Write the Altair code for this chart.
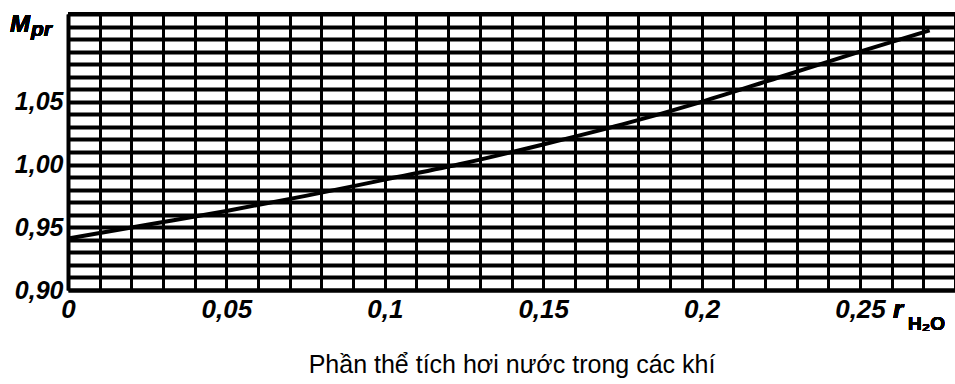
import altair as alt
import pandas as pd

# Curve
r_h2o = [0.0, 0.025, 0.05, 0.075, 0.10, 0.125, 0.15, 0.175, 0.20, 0.225, 0.25, 0.272]
m_pr = [0.941, 0.952, 0.963, 0.975, 0.988, 1.001, 1.016, 1.032, 1.050, 1.070, 1.090, 1.107]

# Grid / tick values
x_ticks = [0.0, 0.01, 0.02, 0.03, 0.04, 0.05, 0.06, 0.07, 0.08, 0.09, 0.10, 0.11, 0.12, 0.13,
           0.14, 0.15, 0.16, 0.17, 0.18, 0.19, 0.20, 0.21, 0.22, 0.23, 0.24, 0.25, 0.26, 0.27, 0.28]
y_ticks = [0.90, 0.91, 0.92, 0.93, 0.94, 0.95, 0.96, 0.97, 0.98, 0.99, 1.00, 1.01, 1.02,
           1.03, 1.04, 1.05, 1.06, 1.07, 1.08, 1.09, 1.10, 1.11, 1.12]
x_domain = [0.0, 0.28]
y_domain = [0.90, 1.12]

x_title = "Phần thể tích hơi nước trong các khí"

df = pd.DataFrame({"r": r_h2o, "m": m_pr})

LF = "Liberation Sans"

xscale = alt.Scale(domain=x_domain, nice=False, zero=False)
yscale = alt.Scale(domain=y_domain, nice=False, zero=False)

x_axis = alt.Axis(
    values=x_ticks, tickCount=200, grid=True, gridColor="black", gridWidth=3, gridOpacity=1,
    ticks=False, domain=True, domainColor="black", domainWidth=4,
    labelExpr="(round(datum.value*100) % 5 == 0 && datum.value < 0.26) ? replace(format(datum.value, '.2~f'), '.', ',') : ''",
    labelFont=LF, labelFontSize=26, labelFontStyle="italic", labelFontWeight="bold",
    labelColor="black", labelPadding=6, labelAngle=0, labelOverlap=False, labelFlush=False,
    title=x_title, titleFont=LF, titleFontSize=25, titleFontWeight="normal",
    titleColor="black", titlePadding=30,
)
y_axis = alt.Axis(
    values=y_ticks, tickCount=200, grid=True, gridColor="black", gridWidth=4, gridOpacity=1,
    ticks=False, domain=True, domainColor="black", domainWidth=4,
    labelExpr="(round(datum.value*100) % 5 == 0 && datum.value < 1.08) ? replace(format(datum.value, '.2f'), '.', ',') : ''",
    labelFont=LF, labelFontSize=25, labelFontStyle="italic", labelFontWeight="bold",
    labelColor="black", labelPadding=5, labelOverlap=False, labelFlush=False,
    title=None,
)

base = alt.Chart(df)

line = base.mark_line(color="black", strokeWidth=4, interpolate="monotone").encode(
    x=alt.X("r:Q", scale=xscale, axis=x_axis),
    y=alt.Y("m:Q", scale=yscale, axis=y_axis),
)

top_border = base.mark_rule(color="black", strokeWidth=4).encode(
    y=alt.datum(y_domain[1]),
)

m_label = base.mark_text(text="M", font=LF, fontSize=24, fontStyle="italic", fontWeight="bold",
                         color="black", align="left", baseline="alphabetic").encode(
    x=alt.value(-58), y=alt.value(18)
)
pr_label = base.mark_text(text="pr", font=LF, fontSize=21, fontStyle="italic", fontWeight="bold",
                          color="black", align="left", baseline="alphabetic").encode(
    x=alt.value(-37), y=alt.value(22)
)
r_label = base.mark_text(text="r", font=LF, fontSize=26, fontStyle="italic", fontWeight="bold",
                         color="black", align="left", baseline="alphabetic").encode(
    x=alt.value(825), y=alt.value(304)
)
h2o_label = base.mark_text(text="H₂O", font=LF, fontSize=19, fontWeight="bold",
                           color="black", align="left", baseline="alphabetic").encode(
    x=alt.value(840), y=alt.value(316)
)

chart = alt.layer(line, top_border, m_label, pr_label, r_label, h2o_label).properties(
    width=887, height=276,
    autosize=alt.AutoSizeParams(type="none"),
    padding={"left": 68, "top": 14, "right": 0, "bottom": 94},
    background="white",
).configure_view(stroke=None)

chart.save("out.html", embed_options={"renderer": "svg", "actions": False})
